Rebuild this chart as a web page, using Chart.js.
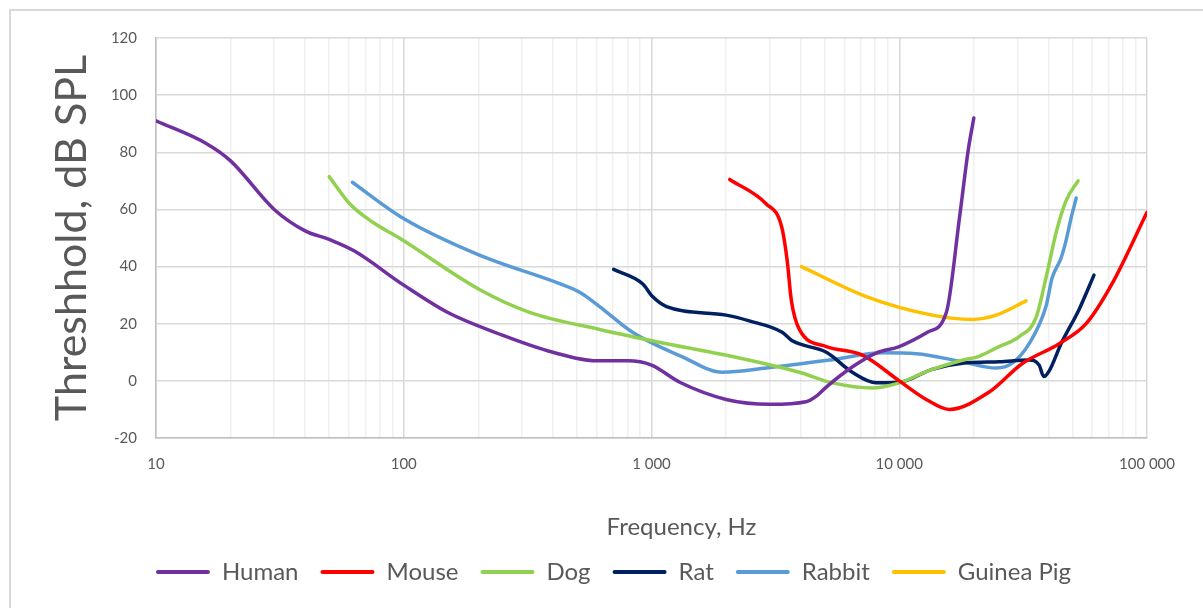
<!DOCTYPE html>
<html>
<head>
<meta charset="utf-8">
<script src="https://cdn.jsdelivr.net/npm/chart.js@4"></script>
<style>
  body { margin: 0; background: #fff; }
  #wrap { position: relative; width: 1203px; height: 608px; overflow: hidden; }
  #frame { position: absolute; left: 9px; top: 9px; width: 1300px; height: 700px; border: 2px solid #d9d9d9; }
  canvas { position: absolute; left: 0; top: 0; }
</style>
</head>
<body>
<div id="wrap">
  <div id="frame"></div>
  <canvas id="hearing" width="1203" height="608"></canvas>
</div>
<script>
// values (Hz, dB SPL)
var humanHz = [10, 16, 20, 30, 40, 50, 63, 100, 150, 250, 400, 600, 800, 1000, 1300, 2000, 3000, 4200, 4600, 5100, 6500, 8100, 10000, 13000, 15500, 17500, 19000, 20000];
var humanDb = [91, 83, 77, 60, 52.5, 49.5, 45.5, 33.5, 24, 16, 10, 7, 7, 5.5, -0.5, -6.5, -8.2, -7.3, -5.5, -2, 5, 9.8, 12, 17, 24, 57, 81, 92];

var mouseHz = [2070, 2900, 3350, 3530, 3670, 3950, 5080, 7100, 10000, 12850, 15900, 23000, 31300, 44200, 56800, 72300, 100000];
var mouseDb = [70.5, 62, 54, 42, 28, 18, 12, 9, 0, -6.5, -10, -4, 6, 13, 20, 34, 59];

var dogHz = [50, 60.5, 75, 96, 202, 322, 617, 1150, 2120, 3950, 5380, 7780, 10000, 13580, 18000, 21000, 25300, 30500, 35600, 39100, 43000, 47100, 52700];
var dogDb = [71.5, 62, 55.5, 50, 32, 24, 18, 13, 8.5, 3, -0.7, -2.5, -0.7, 4, 7.2, 8.6, 12, 15.5, 22, 36, 52, 63, 70];

var ratHz = [703, 920, 1010, 1150, 2000, 2480, 3370, 3700, 5080, 6460, 8070, 10000, 13580, 18600, 25300, 33400, 36700, 38300, 40300, 45000, 53200, 61100];
var ratDb = [39, 34, 29.5, 26, 23, 21, 17, 14, 10, 3, -0.7, -0.5, 4, 6.3, 6.7, 7.3, 5.5, 1.5, 3.5, 13, 25, 37];

var rabbitHz = [62, 99, 202, 426, 513, 617, 838, 1333, 1933, 2910, 5380, 8530, 11720, 17950, 24600, 28560, 33440, 39100, 41400, 45000, 47100, 49400, 51800];
var rabbitDb = [69.5, 57, 44, 34, 31, 26, 17, 8.4, 3, 4.5, 7.4, 9.8, 9.5, 6.7, 4.5, 6.2, 13, 26, 36, 43, 49, 57, 64];

var guineaHz = [4030, 7360, 13580, 19700, 24600, 32500];
var guineaDb = [40, 29.5, 23, 21.5, 23, 28];

var xTickValues = [10, 100, 1000, 10000, 100000];
var xTickLabels = ['10', '100', '1 000', '10 000', '100 000'];

var xTitle = 'Frequency, Hz';
var yTitle = 'Threshhold, dB SPL';

function pairs(xs, ys) {
    var out = [];
    for (var i in xs) {
        out.push({x: xs[i], y: ys[i]});
    }
    return out;
}

function series(label, xs, ys, color) {
    return {
        label: label,
        data: pairs(xs, ys),
        borderColor: color,
        backgroundColor: color,
        borderWidth: 3.5,
        pointRadius: 0,
        cubicInterpolationMode: 'monotone',
        borderCapStyle: 'round'
    };
}

// every 1..9 step inside each decade, for the minor grid lines
var gridTicks = [];
for (var d = 10; d < 100000; d *= 10) {
    for (var m = 1; m < 10; m++) gridTicks.push(m * d);
}
gridTicks.push(100000);

Chart.defaults.font.family = 'Lato';
Chart.defaults.color = '#595959';

var textGrey = '#595959';

var xTitlePlugin = {
    id: 'xTitle',
    afterLayout: function(chart) {
        // excel centres the legend a bit right of the plot centre
        chart.legend.left += 40;
        chart.legend.right += 40;
    },
    afterDraw: function(chart) {
        var ctx = chart.ctx;
        var a = chart.chartArea;
        ctx.save();
        ctx.font = '24px Lato';
        ctx.fillStyle = textGrey;
        ctx.textAlign = 'center';
        ctx.textBaseline = 'middle';
        ctx.fillText(xTitle, (a.left + a.right) / 2 + 30, 527);
        ctx.restore();
    }
};

var ctx = document.getElementById('hearing');

var hearingChart = new Chart(ctx, {
    type: 'line',
    data: {
        datasets: [
            series('Human', humanHz, humanDb, '#7030A0'),
            series('Mouse', mouseHz, mouseDb, '#FF0000'),
            series('Dog', dogHz, dogDb, '#92D050'),
            series('Rat', ratHz, ratDb, '#002060'),
            series('Rabbit', rabbitHz, rabbitDb, '#5B9BD5'),
            series('Guinea Pig', guineaHz, guineaDb, '#FFC000')
        ]
    },
    plugins: [xTitlePlugin],
    options: {
        responsive: false,
        animation: false,
        layout: {
            padding: {top: 38, right: 56, left: 0, bottom: 14}
        },
        scales: {
            x: {
                type: 'logarithmic',
                min: 10,
                max: 100000,
                afterBuildTicks: function(scale) {
                    scale.ticks = gridTicks.map(function(v) { return {value: v}; });
                },
                afterFit: function(scale) {
                    scale.height = 100;
                },
                ticks: {
                    autoSkip: false,
                    maxRotation: 0,
                    padding: 17,
                    font: {size: 15},
                    color: textGrey,
                    callback: function(value) {
                        var k = xTickValues.indexOf(value);
                        return k >= 0 ? xTickLabels[k] : '';
                    }
                },
                grid: {
                    drawTicks: false,
                    lineWidth: 1.5,
                    color: function(c) {
                        return (c.tick && xTickValues.indexOf(c.tick.value) >= 0) ? '#d9d9d9' : '#f0f0f0';
                    }
                },
                border: {color: '#bfbfbf', width: 1.5}
            },
            y: {
                min: -20,
                max: 120,
                afterFit: function(scale) {
                    scale.width = 156;
                },
                ticks: {
                    stepSize: 20,
                    padding: 19,
                    font: {size: 15},
                    color: textGrey
                },
                grid: {
                    drawTicks: false,
                    lineWidth: 1.5,
                    color: '#d9d9d9'
                },
                border: {color: '#bfbfbf', width: 1.5},
                title: {
                    display: true,
                    text: yTitle,
                    font: {size: 43},
                    color: textGrey,
                    padding: {top: 46, bottom: 0}
                }
            }
        },
        plugins: {
            legend: {
                position: 'bottom',
                labels: {
                    boxWidth: 54,
                    boxHeight: 4,
                    padding: 22,
                    font: {size: 24},
                    color: textGrey,
                    generateLabels: function(chart) {
                        var items = Chart.defaults.plugins.legend.labels.generateLabels(chart);
                        items.forEach(function(it) {
                            it.fillStyle = it.strokeStyle;
                            it.lineWidth = 0;
                            it.borderRadius = 2;
                        });
                        return items;
                    }
                }
            },
            tooltip: {enabled: false}
        }
    }
});
</script>
</body>
</html>
